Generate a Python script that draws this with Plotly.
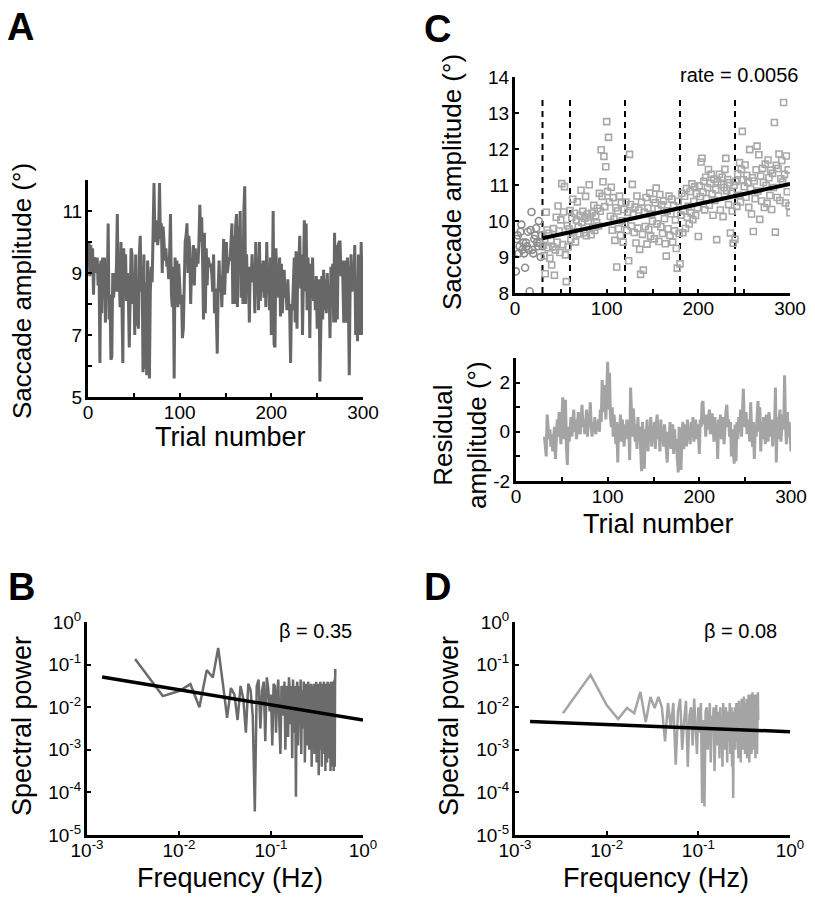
import numpy as np
import plotly.graph_objects as go

W, H = 815, 899
FONT = "Liberation Sans, Arial, sans-serif"

# ---------------- Panel A: saccade amplitude per trial ----------------
a_amplitude = [
    9.2, 10.0, 8.9, 9.9, 9.0, 9.8, 8.3, 9.5, 9.4, 9.0,
    9.5, 8.6, 9.3, 6.1, 9.4, 7.7, 9.5, 8.2, 9.5, 7.4,
    9.0, 8.4, 10.6, 7.5, 8.3, 6.2, 6.3, 9.0, 8.2, 9.0,
    8.4, 9.2, 10.9, 8.4, 9.0, 7.9, 10.0, 8.2, 6.1, 9.8,
    8.4, 9.6, 8.1, 9.0, 8.3, 6.6, 8.6, 9.8, 9.6, 8.0,
    9.0, 7.0, 9.6, 7.3, 8.5, 7.2, 9.6, 10.2, 8.4, 9.2,
    5.8, 9.6, 5.9, 8.7, 5.7, 9.4, 8.6, 5.6, 8.4, 9.2,
    8.7, 10.5, 11.9, 10.0, 10.4, 10.7, 9.9, 10.2, 11.9, 10.1,
    10.6, 9.0, 10.5, 9.6, 9.4, 9.8, 9.2, 9.4, 8.8, 9.6,
    10.9, 8.3, 7.9, 9.2, 5.6, 9.5, 8.2, 9.4, 7.9, 9.3,
    8.5, 8.0, 8.3, 6.9, 7.2, 8.5, 10.0, 10.2, 10.6, 9.0,
    10.2, 9.8, 8.0, 9.2, 9.1, 9.9, 8.6, 9.8, 9.2, 9.5,
    9.3, 10.0, 11.2, 10.0, 10.8, 9.4, 7.5, 10.3, 7.7, 9.8,
    8.6, 9.5, 9.3, 9.2, 9.3, 9.0, 8.4, 9.6, 7.7, 8.5,
    7.6, 6.4, 8.5, 9.4, 8.4, 8.9, 7.9, 9.2, 10.1, 8.3,
    9.4, 10.0, 9.0, 9.3, 9.5, 9.4, 9.9, 10.6, 8.0, 10.2,
    8.0, 10.5, 10.9, 7.9, 10.5, 9.8, 11.0, 8.2, 10.1, 8.0,
    11.0, 11.8, 8.0, 9.6, 8.4, 9.2, 7.4, 9.2, 8.7, 9.6,
    8.7, 9.0, 7.7, 10.0, 8.6, 9.0, 7.8, 10.0, 8.1, 9.3,
    8.4, 9.4, 8.2, 9.4, 7.9, 10.0, 8.6, 9.0, 7.8, 9.5,
    7.0, 8.3, 11.0, 6.7, 6.6, 9.8, 8.7, 9.0, 8.2, 9.5,
    7.6, 9.3, 7.7, 8.6, 9.1, 8.2, 8.5, 7.8, 8.8, 8.0,
    7.8, 6.1, 8.0, 7.8, 9.0, 9.5, 7.4, 9.7, 7.2, 9.6,
    9.3, 10.2, 8.5, 9.6, 7.0, 9.6, 10.7, 8.4, 10.6, 7.8,
    9.5, 8.8, 6.9, 9.3, 8.2, 9.5, 8.1, 8.7, 7.8, 8.9,
    7.2, 8.4, 8.8, 5.5, 6.8, 8.9, 7.5, 9.1, 7.8, 8.8,
    7.7, 9.0, 8.0, 8.6, 6.9, 9.2, 8.0, 9.3, 7.4, 10.3,
    7.4, 9.9, 7.5, 9.9, 10.0, 10.0, 8.9, 9.4, 8.8, 7.4,
    9.4, 9.0, 7.4, 9.5, 8.3, 5.7, 8.7, 9.6, 8.4, 9.1,
    8.6, 9.9, 7.0, 8.5, 6.8, 9.6, 8.4, 7.0, 10.0, 7.6,
    7.0,
]
a_trials = list(range(len(a_amplitude)))

# ---------------- Panel C: adaptation trials ----------------
c_early_trials = list(range(1, 31))
c_early_amplitude = [
    8.6, 9.5, 9.6, 9.1, 9.3, 9.7, 9.9, 9.2, 9.4, 9.1,
    8.7, 9.4, 9.3, 9.7, 9.2, 8.05, 9.75, 10.25, 9.2, 9.1,
    9.5, 9.6, 9.8, 9.4, 9.3, 10.0, 9.4, 9.0, 9.6, 9.3,
]
c_fit_trials = [30, 300]
c_fit_amplitude = [9.52, 11.03]
c_block_bounds = [30, 60, 120, 180, 240]
c_block_line_y = [8, 13.45]
c_rate_text = "rate = 0.0056"

# residual amplitude (deg) for trials 31..300
c_residual = [
    -0.2, -0.5, -1.0, 0.7, 0.2, -0.3, 0.1, -0.6, -0.1, -0.8,
    -0.3, 0.2, -1.1, -0.4, 0.5, -0.2, 0.8, 0.1, -0.5, 0.4,
    1.4, -0.3, 0.6, 1.3, -0.6, -1.35, 0.2, -0.4, 0.1, 0.6,
    -0.2, 0.4, 0.9, 0.0, 0.5, -0.3, 0.3, 0.8, 0.1, -0.1,
    0.4, 1.1, 0.2, 0.5, -0.1, 0.3, 0.9, -0.2, 0.4, 0.2,
    1.2, 0.3, -0.2, 0.4, 0.0, 0.6, -0.1, 0.3, 0.1, 0.5,
    0.0, 0.9, 0.4, 2.1, 0.8, 1.2, 1.9, 0.5, 1.6, 2.85,
    0.9, 2.4, 0.6, 0.2, 1.0, -0.2, 0.7, 0.1, -0.5, 0.4,
    -1.25, 0.3, -0.2, 0.7, -0.4, 0.5, 0.0, -0.6, 0.3, -0.1,
    0.5, -0.3, 0.2, -1.15, 1.8, 0.4, -0.2, 0.95, 0.1, -0.4,
    0.3, -0.7, 0.6, -0.3, 0.2, -0.9, -1.6, 0.4, -0.5, -1.5,
    0.1, -0.3, 0.5, -0.8, 0.2, -0.4, 0.6, -0.6, 0.0, -0.2,
    0.4, -0.7, 0.3, 0.7, -0.3, 0.1, -0.8, 0.5, -0.4, 0.2,
    -0.6, 0.3, -0.2, -0.9, -1.25, 0.0, -0.5, 0.4, -0.7, -0.1,
    0.3, -0.9, 0.1, -0.6, -0.3, -1.1, -1.65, 0.2, -0.7, -1.55,
    -0.2, 0.4, -0.7, -0.1, 0.3, -0.6, 0.5, -0.3, 0.0, -0.5,
    0.4, -0.2, 0.6, -0.4, 0.1, 0.5, -0.3, 0.3, -0.1, -0.9,
    0.5, 0.2, 1.15, 1.25, 0.3, 0.6, -0.2, 0.7, 0.1, 0.4,
    0.9, -0.1, 0.5, 0.75, 0.2, -0.4, 0.6, 0.0, 0.3, -1.1,
    0.5, 0.1, 0.7, -0.3, 0.4, 0.6, -0.5, 0.3, 0.8, 1.1,
    0.2, 0.5, -0.2, 0.4, -1.0, 0.1, -0.4, -1.3, 0.3, -1.2,
    0.4, -0.3, 0.6, 0.0, 0.9, -0.2, 0.7, 1.75, 0.4, 0.2,
    0.8, -0.1, 0.5, 0.3, -0.4, 1.2, 0.1, -0.6, 0.4, -1.1,
    0.3, -0.2, 0.6, 1.25, 0.0, 1.0, -0.8, 0.4, -0.3, 0.6,
    0.2, -0.5, 0.7, 0.1, -0.4, 0.8, 0.3, -0.2, 0.5, -0.6,
    0.4, 0.0, 1.8, -1.25, 0.6, -0.3, 0.5, 0.9, -0.4, 0.2,
    0.7, 0.1, 2.3, 0.3, -0.5, 0.8, -0.2, 0.4, -0.6, -0.8,
]
c_late_trials = list(range(31, 31 + len(c_residual)))
# adaptation-phase amplitudes = linear fit + residual
c_late_amplitude = (np.interp(c_late_trials, c_fit_trials, c_fit_amplitude)
                    + np.array(c_residual)).tolist()

# ---------------- Panel B: spectrum of A (log10 power) ----------------
b_log10_power = [
    -0.87, -1.74, -1.62, -1.46, -2.0, -1.13, -1.3, -0.61, -1.45, -2.25,
    -1.55, -1.7, -2.3, -1.5, -1.8, -2.6, -1.45, -1.6, -2.2, -4.45,
    -1.5, -1.35, -2.5, -1.6, -1.4, -2.8, -1.3, -1.55, -2.1, -1.7,
    -2.9, -1.45, -1.5, -2.6, -1.7, -1.35, -2.4, -3.1, -1.5, -1.6,
    -2.2, -1.4, -3.0, -1.5, -1.7, -2.7, -1.3, -1.6, -2.4, -1.5,
    -3.2, -1.35, -1.8, -2.6, -1.5, -4.1, -1.6, -1.4, -2.9, -1.7,
    -1.5, -2.3, -1.35, -3.1, -1.6, -1.8, -2.5, -1.4, -1.55, -3.3,
    -1.7, -1.45, -2.2, -1.6, -2.9, -1.4, -1.5, -3.0, -1.75, -1.6,
    -2.5, -1.45, -3.4, -1.55, -1.5, -2.7, -1.8, -1.45, -3.1, -1.6,
    -1.5, -2.4, -1.4, -3.3, -1.7, -1.55, -2.8, -1.45, -3.6, -1.6,
    -1.5, -2.6, -1.4, -3.0, -1.75, -1.5, -3.4, -1.45, -2.2, -1.6,
    -3.1, -1.5, -1.4, -2.9, -1.65, -1.5, -3.5, -1.6, -1.45, -2.7,
    -1.55, -3.3, -1.5, -1.4, -2.6, -1.7, -3.2, -1.45, -1.6, -3.0,
    -1.5, -1.55, -3.5, -1.4, -2.8, -1.6, -1.5, -3.4, -1.45, -1.7,
    -3.0, -1.5, -1.4, -3.5, -1.6, -2.5, -1.35, -3.4, -1.5, -1.1,
]
b_freq = (np.arange(1, len(b_log10_power) + 1) / 300.0).tolist()
b_power = (10.0 ** np.array(b_log10_power)).tolist()
b_fit_freq = [0.00146, 1.0]
b_fit_power = [0.051, 0.0050]
b_beta_text = "β = 0.35"

# ---------------- Panel D: spectrum of residual (log10 power) ----------------
d_log10_power = [
    -2.14, -1.24, -1.95, -2.28, -2.02, -2.14, -1.64, -2.35, -1.76, -2.02,
    -1.76, -2.0, -2.8, -1.9, -2.5, -1.9, -3.35, -2.1, -1.8, -3.0,
    -2.3, -1.85, -3.4, -2.2, -2.0, -2.9, -1.8, -2.4, -3.1, -2.0,
    -2.6, -1.9, -4.25, -2.3, -4.33, -2.1, -2.0, -3.0, -2.4, -1.9,
    -3.3, -2.2, -2.5, -2.0, -3.5, -2.3, -1.95, -2.9, -2.4, -2.1,
    -3.2, -2.0, -2.6, -2.3, -3.4, -1.9, -2.7, -2.2, -3.0, -2.0,
    -2.5, -3.3, -2.1, -2.4, -2.8, -1.9, -3.1, -2.3, -2.0, -3.4,
    -2.2, -4.13, -2.1, -2.6, -2.0, -3.0, -2.3, -1.9, -2.8, -2.2,
    -2.5, -3.2, -1.85, -2.4, -2.9, -2.0, -3.3, -2.2, -1.8, -2.7,
    -2.1, -3.0, -2.4, -1.75, -2.8, -2.2, -3.1, -1.9, -2.3, -2.6,
    -1.8, -3.2, -2.4, -2.0, -2.9, -1.7, -2.5, -3.3, -2.0, -1.8,
    -2.8, -2.2, -1.7, -3.1, -2.0, -2.4, -1.65, -2.9, -2.1, -1.8,
    -3.0, -2.3, -1.7, -2.7, -2.0, -3.2, -1.75, -2.2, -2.6, -1.7,
    -3.1, -1.8, -2.4, -1.65, -2.3,
]
d_freq = (np.arange(1, len(d_log10_power) + 1) / 300.0).tolist()
d_power = (10.0 ** np.array(d_log10_power)).tolist()
d_fit_freq = [0.00146, 1.0]
d_fit_power = [0.0046, 0.00266]
d_beta_text = "β = 0.08"

# tick settings
trial_tickvals = [0, 100, 200, 300]
a_y_tickvals = [5, 7, 9, 11]
c_y_tickvals = [8, 9, 10, 11, 12, 13, 14]
r_y_tickvals = [-2, 0, 2]
log_x_tickvals = [1e-3, 1e-2, 1e-1, 1]
log_x_ticktext = ["10<sup>-3</sup>", "10<sup>-2</sup>", "10<sup>-1</sup>", "10<sup>0</sup>"]
log_y_tickvals = [1e-5, 1e-4, 1e-3, 1e-2, 1e-1, 1]
log_y_ticktext = ["10<sup>-5</sup>", "10<sup>-4</sup>", "10<sup>-3</sup>",
                  "10<sup>-2</sup>", "10<sup>-1</sup>", "10<sup>0</sup>"]

# ---------------- figure ----------------
def dx(a, b):
    return [a / W, b / W]

def dy(top, bottom):
    return [1 - bottom / H, 1 - top / H]

fig = go.Figure()

# A
fig.add_trace(go.Scatter(x=a_trials, y=a_amplitude, mode="lines",
                         line=dict(color="#676767", width=3),
                         xaxis="x", yaxis="y"))
# C top
for b in c_block_bounds:
    fig.add_trace(go.Scatter(x=[b, b], y=c_block_line_y, mode="lines",
                             line=dict(color="black", width=2, dash="6px,5px"),
                             xaxis="x2", yaxis="y2"))
fig.add_trace(go.Scatter(x=c_early_trials, y=c_early_amplitude, mode="markers",
                         marker=dict(symbol="circle-open", size=7, color="#8c8c8c",
                                     line=dict(width=1.6)),
                         xaxis="x2", yaxis="y2"))
fig.add_trace(go.Scatter(x=c_late_trials, y=c_late_amplitude, mode="markers",
                         marker=dict(symbol="square-open", size=6, color="#a8a8a8",
                                     line=dict(width=1.6)),
                         xaxis="x2", yaxis="y2"))
fig.add_trace(go.Scatter(x=c_fit_trials, y=c_fit_amplitude, mode="lines",
                         line=dict(color="black", width=4),
                         xaxis="x2", yaxis="y2"))
# C bottom
fig.add_trace(go.Scatter(x=c_late_trials, y=c_residual, mode="lines",
                         line=dict(color="#a4a4a4", width=3),
                         xaxis="x3", yaxis="y3"))
# B
fig.add_trace(go.Scatter(x=b_freq, y=b_power, mode="lines",
                         line=dict(color="#6b6b6b", width=2.5),
                         xaxis="x4", yaxis="y4"))
fig.add_trace(go.Scatter(x=b_fit_freq, y=b_fit_power, mode="lines",
                         line=dict(color="black", width=3.5),
                         xaxis="x4", yaxis="y4"))
# D
fig.add_trace(go.Scatter(x=d_freq, y=d_power, mode="lines",
                         line=dict(color="#a4a4a4", width=2.5),
                         xaxis="x5", yaxis="y5"))
fig.add_trace(go.Scatter(x=d_fit_freq, y=d_fit_power, mode="lines",
                         line=dict(color="black", width=3.5),
                         xaxis="x5", yaxis="y5"))

axis_style = dict(showline=True, linewidth=3, linecolor="black", ticks="inside",
                  ticklen=4, tickwidth=2, tickcolor="black", showgrid=False,
                  zeroline=False, mirror=False, automargin=False,
                  tickfont=dict(family=FONT, size=19, color="black"))
x_extra = dict(ticklabelstandoff=-4)
y_extra = dict(ticklabelstandoff=-1)

def minor(d):
    return dict(minor=dict(dtick=d, ticks="inside", ticklen=4, tickwidth=2,
                           tickcolor="black", showgrid=False))

trial_axis = dict(range=[0, 300], tickmode="array", tickvals=trial_tickvals,
                  ticktext=[str(v) for v in trial_tickvals], **minor(50))

fig.update_layout(
    width=W, height=H, margin=dict(l=0, r=0, t=0, b=0, pad=0, autoexpand=False),
    paper_bgcolor="white", plot_bgcolor="white", showlegend=False,
    font=dict(family=FONT, color="black"),
    xaxis=dict(domain=dx(88, 363), anchor="y", **trial_axis, **axis_style, **x_extra),
    yaxis=dict(domain=dy(180, 397), range=[5, 12], anchor="x", tickmode="array",
               tickvals=a_y_tickvals, ticktext=[str(v) for v in a_y_tickvals],
               **minor(1), **axis_style, **y_extra),
    xaxis2=dict(domain=dx(515, 790), anchor="y2", **trial_axis, **axis_style, **x_extra),
    yaxis2=dict(domain=dy(77, 293), range=[8, 14], anchor="x2", tickmode="array",
                tickvals=c_y_tickvals, ticktext=[str(v) for v in c_y_tickvals],
                **axis_style, **y_extra),
    xaxis3=dict(domain=dx(516, 791), anchor="y3", **trial_axis, **axis_style, **x_extra),
    yaxis3=dict(domain=dy(358, 481), range=[-2, 3], anchor="x3", tickmode="array",
                tickvals=r_y_tickvals, ticktext=[str(v) for v in r_y_tickvals],
                **minor(1), **axis_style, **y_extra),
    xaxis4=dict(domain=dx(87, 363), type="log", range=[-3, 0], anchor="y4",
                tickmode="array", tickvals=log_x_tickvals, ticktext=log_x_ticktext,
                **axis_style, **x_extra),
    yaxis4=dict(domain=dy(622, 835), type="log", range=[-5, 0], anchor="x4",
                tickmode="array", tickvals=log_y_tickvals, ticktext=log_y_ticktext,
                **axis_style, **y_extra),
    xaxis5=dict(domain=dx(515, 790), type="log", range=[-3, 0], anchor="y5",
                tickmode="array", tickvals=log_x_tickvals, ticktext=log_x_ticktext,
                **axis_style, **x_extra),
    yaxis5=dict(domain=dy(622, 835), type="log", range=[-5, 0], anchor="x5",
                tickmode="array", tickvals=log_y_tickvals, ticktext=log_y_ticktext,
                **axis_style, **y_extra),
)

def note(text, x, y, size, angle=0, bold=False):
    fig.add_annotation(text=f"<b>{text}</b>" if bold else text,
                       x=x / W, y=1 - y / H, xref="paper", yref="paper",
                       xanchor="center", yanchor="middle", showarrow=False,
                       textangle=angle, font=dict(family=FONT, size=size, color="black"))

note("A", 20, 27, 38, bold=True)
note("C", 437, 29, 38, bold=True)
note("B", 21, 587, 38, bold=True)
note("D", 437, 587, 38, bold=True)

note("Saccade amplitude (°)", 22, 291, 26, angle=-90)
note("Trial number", 231, 437, 27)
note("Saccade amplitude (°)", 452, 182, 26, angle=-90)
note(c_rate_text, 739, 75, 20)
note("Residual<br>amplitude (°)", 460, 435, 26, angle=-90)
note("Trial number", 658, 524, 27)
note("Spectral power", 22, 726, 27, angle=-90)
note("Frequency (Hz)", 230, 878, 27)
note(b_beta_text, 315, 631, 20)
note("Spectral power", 449, 726, 27, angle=-90)
note("Frequency (Hz)", 656, 878, 27)
note(d_beta_text, 740, 631, 20)

fig.write_html("out.html", config={"displayModeBar": False},
               post_script="document.body.style.margin='0px';document.body.style.overflow='hidden';")
